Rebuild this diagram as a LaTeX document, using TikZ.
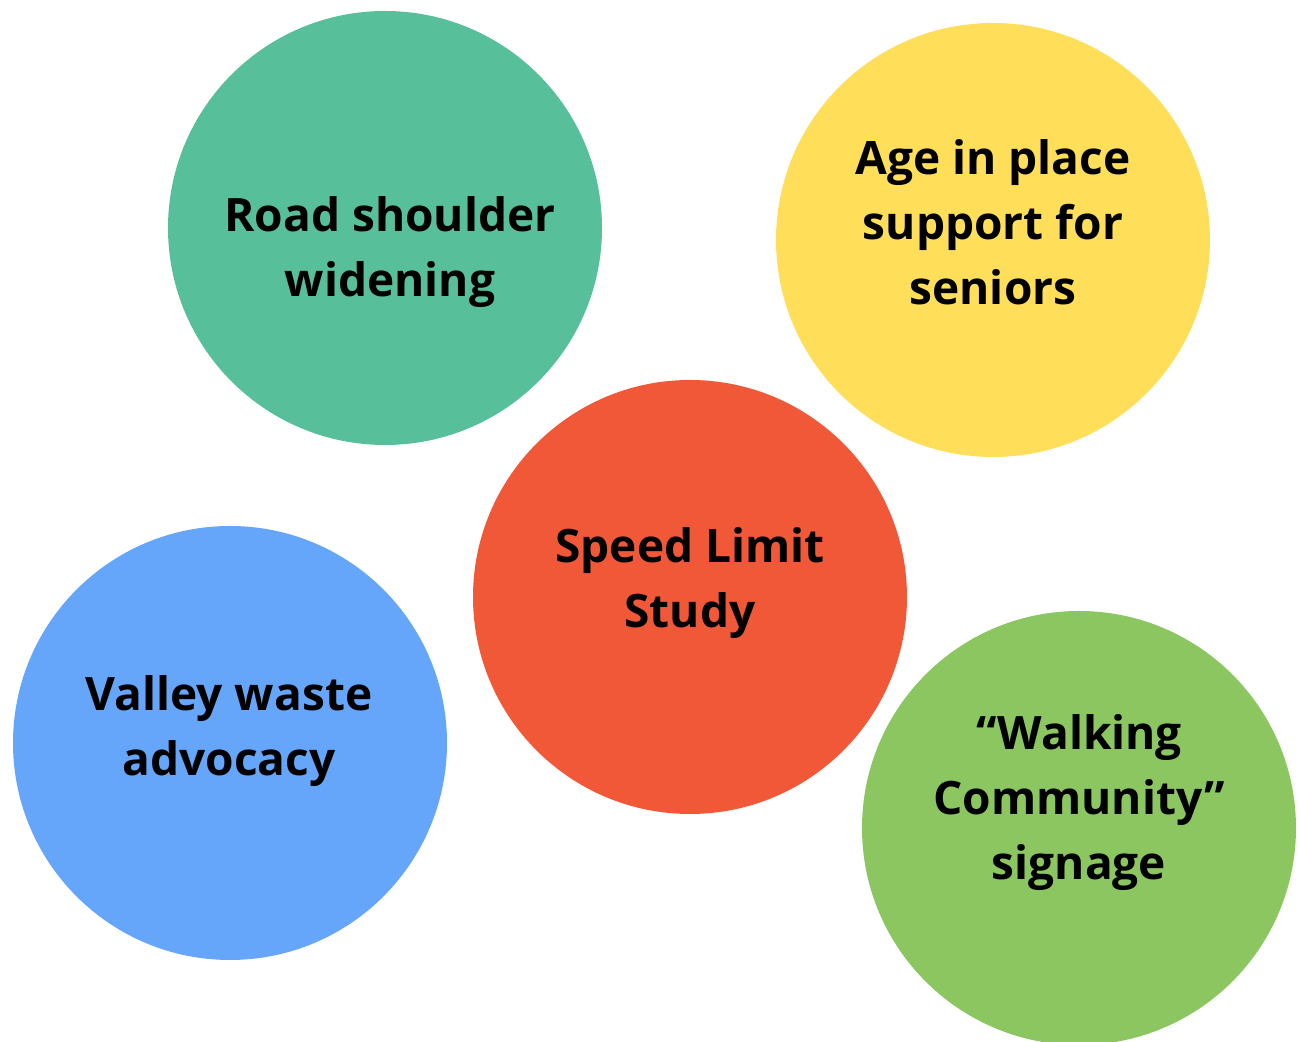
\documentclass[tikz,border=0pt]{standalone}
\usepackage{fontspec}
\setmainfont{Open Sans}
\usepackage{tikz}
\usetikzlibrary{positioning}
\usepackage{xcolor}
\definecolor{teal}{HTML}{57BF9A}
\definecolor{yellow}{HTML}{FFDE59}
\definecolor{red}{HTML}{F15838}
\definecolor{blue}{HTML}{66A6FA}
\definecolor{green}{HTML}{8BC660}

\begin{document}
\begin{tikzpicture}[
		c/.style = {circle, draw=none, inner sep=0pt, minimum size=4.34cm},
		t/.style = {align=center, anchor=base, inner sep=0pt, font=\bfseries\fontsize{13.1}{18.5}\selectfont},
		]
		\useasboundingbox (0, 0) rectangle (12.98, 10.42);
		
		% === === Circles === ===
		\node[c, fill=teal]		(road)	at	(3.85, 8.14)	{};
		\node[c, fill=yellow]	(age)	at	(9.93, 8.02)	{};
		\node[c, fill=red]		(speed)	at	(6.90, 4.45)	{};
		\node[c, fill=blue]		(waste)	at	(2.30, 2.99)	{};
		\node[c, fill=green]	(walk)	at	(10.79, 2.14)	{};
		
		% === === Labels === ===
		\node[t]	(roadtxt)	at	(3.90, 7.45)	{Road shoulder\\widening};
		\node[t]	(agetxt)	at	(9.93, 7.37)	{Age in place\\support for\\seniors};
		\node[t]	(speedtxt)	at	(6.90, 4.14)	{Speed Limit\\Study};
		\node[t]	(wastetxt)	at	(2.29, 2.66)	{Valley waste\\advocacy};
		\node[t]	(walktxt)	at	(10.79, 1.62)	{“Walking\\Community”\\signage};
		
	\end{tikzpicture}
\end{document}
